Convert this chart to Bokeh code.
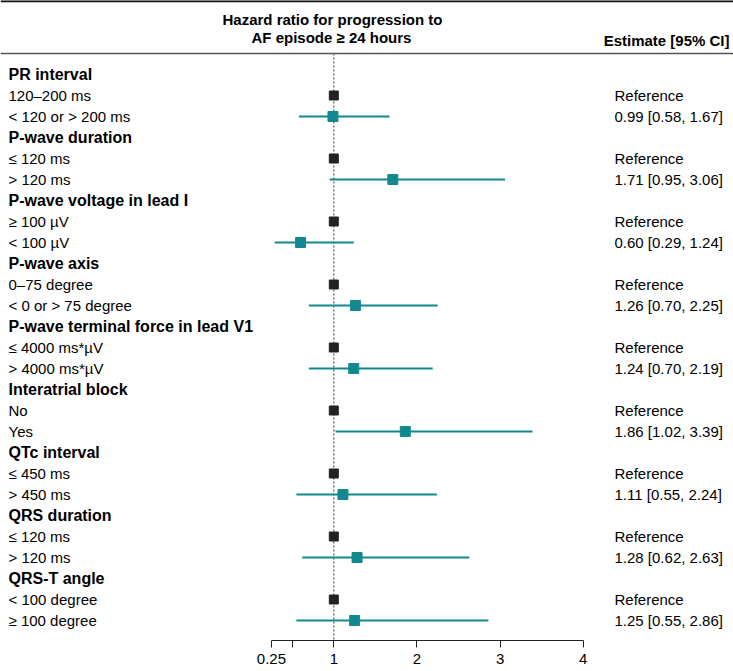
from bokeh.plotting import figure
from bokeh.models import Range1d, ColumnDataSource, FixedTicker
from bokeh.core.properties import value
from bokeh.embed import file_html
from bokeh.resources import INLINE

# ---------------- data ----------------
groups = ["PR interval", "P-wave duration", "P-wave voltage in lead I", "P-wave axis",
          "P-wave terminal force in lead V1", "Interatrial block", "QTc interval",
          "QRS duration", "QRS-T angle"]
ref_labels = ["120\u2013200 ms", "\u2264 120 ms", "\u2265 100 \u00b5V", "0\u201375 degree",
              "\u2264 4000 ms*\u00b5V", "No", "\u2264 450 ms", "\u2264 120 ms", "< 100 degree"]
cmp_labels = ["< 120 or > 200 ms", "> 120 ms", "< 100 \u00b5V", "< 0 or > 75 degree",
              "> 4000 ms*\u00b5V", "Yes", "> 450 ms", "> 120 ms", "\u2265 100 degree"]
est = [0.99, 1.71, 0.60, 1.26, 1.24, 1.86, 1.11, 1.28, 1.25]
lo = [0.58, 0.95, 0.29, 0.70, 0.70, 1.02, 0.55, 0.62, 0.55]
hi = [1.67, 3.06, 1.24, 2.25, 2.19, 3.39, 2.24, 2.63, 2.86]
ref_value = 1.0
tick_values = [0.25, 0.5, 1, 2, 3, 4]
tick_overrides = {0.5: ""}
title_lines = ["Hazard ratio for progression to", "AF episode \u2265 24 hours"]
est_header = "Estimate [95% CI]"

# ---------------- layout ----------------
W, H = 733, 671
AXIS_PX = 640          # axis line / frame bottom
FRAME_H = AXIS_PX
PX_PER_UNIT = 83.13
X_AT_PX = 333.3        # px of x = 1
X0 = 1 - X_AT_PX / PX_PER_UNIT
X1 = X0 + W / PX_PER_UNIT
ROW_H = 21.0
FIRST_ROW_PX = 74.0
Y_TOP = -FIRST_ROW_PX / ROW_H
Y_BOT = (FRAME_H - FIRST_ROW_PX) / ROW_H


def row_at(px):
    return (px - FIRST_ROW_PX) / ROW_H


def x_at(px):
    return X0 + px / PX_PER_UNIT


FONT = "Liberation Sans"
TEAL = "#13898f"
DARK = "#222222"

p = figure(width=W, height=H, x_range=Range1d(X0, X1), y_range=Range1d(Y_BOT, Y_TOP),
           output_backend="svg", toolbar_location=None, y_axis_location=None,
           min_border_left=0, min_border_right=0, min_border_top=0,
           min_border_bottom=H - AXIS_PX)
p.grid.visible = False
p.outline_line_color = None
p.background_fill_color = "white"
p.border_fill_color = "white"

# rows
n = len(groups)
g_rows = [3 * i for i in range(n)]
r_rows = [3 * i + 1 for i in range(n)]
c_rows = [3 * i + 2 for i in range(n)]

# top rule and header rule
p.segment(x0=[X0, X0], x1=[X1, X1], y0=[row_at(0.5), row_at(53)], y1=[row_at(0.5), row_at(53)],
          line_color=["#111111", "#555555"], line_width=[2.5, 1.5])

# reference dotted line
p.segment(x0=[ref_value], x1=[ref_value], y0=[row_at(53)], y1=[Y_BOT],
          line_color="#777777", line_width=1.5, line_dash="2 2")

# CIs
ci = ColumnDataSource(dict(lo=lo, hi=hi, y=c_rows, est=est))
p.segment(x0="lo", x1="hi", y0="y", y1="y", source=ci, line_color=TEAL, line_width=2)
p.scatter(x=[ref_value] * n, y=r_rows, marker="square", size=9,
          fill_color=DARK, line_color=DARK)
p.scatter(x="est", y="y", source=ci, marker="square", size=10,
          fill_color=TEAL, line_color=TEAL)

# left labels
p.text(x=[x_at(8)] * n, y=g_rows, text=groups, text_font=value(FONT), text_font_size=value("16px"),
       text_font_style="bold", text_baseline="middle", text_align="left", text_color="black")
p.text(x=[x_at(8)] * (2 * n), y=r_rows + c_rows, text=ref_labels + cmp_labels, text_font=value(FONT),
       text_font_size=value("15px"), text_baseline="middle", text_align="left", text_color="black")

# right column
est_text = ["%.2f [%.2f, %.2f]" % (e, l, h) for e, l, h in zip(est, lo, hi)]
p.text(x=[x_at(614)] * (2 * n), y=r_rows + c_rows, text=["Reference"] * n + est_text,
       text_font=value(FONT), text_font_size=value("15px"), text_baseline="middle",
       text_align="left", text_color="black")

# headers
p.text(x=[x_at(332), x_at(331)], y=[row_at(19), row_at(37)], text=title_lines,
       text_font=value(FONT), text_font_size=value("15px"), text_font_style="bold",
       text_baseline="middle", text_align="center", text_color="black")
p.text(x=[x_at(729)], y=[row_at(40)], text=[est_header],
       text_font=value(FONT), text_font_size=value("15px"), text_font_style="bold",
       text_baseline="middle", text_align="right", text_color="black")

# axis
ax = p.xaxis[0]
ax.ticker = FixedTicker(ticks=tick_values)
ax.major_label_overrides = tick_overrides
ax.bounds = (tick_values[0], tick_values[-1])
ax.axis_line_color = DARK
ax.major_tick_line_color = DARK
ax.major_tick_in = 0
ax.major_tick_out = 7
ax.minor_tick_line_color = None
ax.major_label_standoff = 6
ax.major_label_text_font = FONT
ax.major_label_text_font_size = "15px"
ax.major_label_text_color = "black"

open("out.html", "w").write(file_html(p, INLINE))
